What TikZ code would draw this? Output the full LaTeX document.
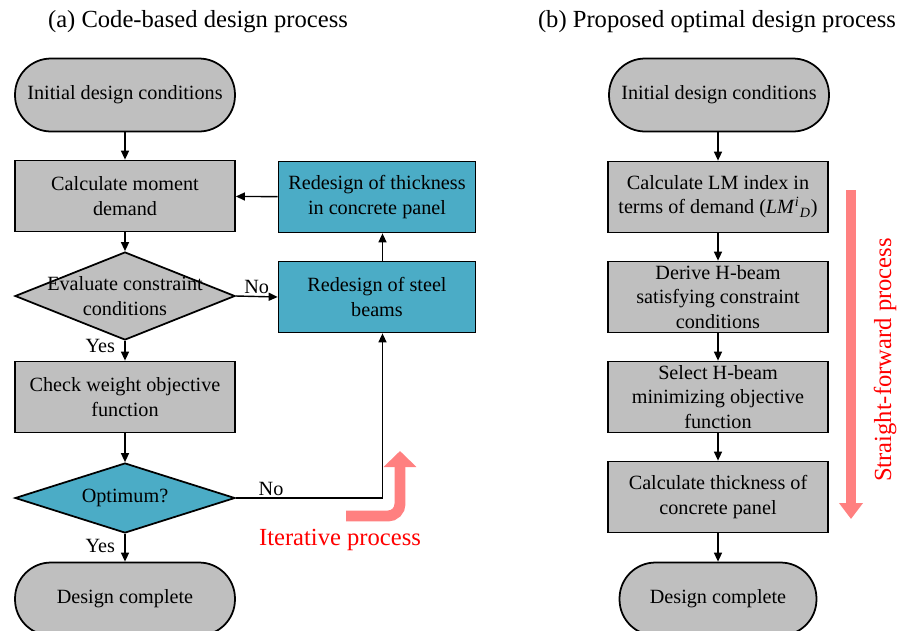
\documentclass[tikz,border=0pt]{standalone}
\usepackage{fontspec}
\setmainfont{Liberation Serif}
\usetikzlibrary{shapes.geometric,arrows.meta}
\definecolor{boxgray}{HTML}{BFBFBF}
\definecolor{boxteal}{HTML}{4BACC6}
\definecolor{flowpink}{HTML}{FF8080}

\begin{document}
\begin{tikzpicture}[
    x=0.02cm, y=-0.02cm,
    font=\fontsize{11.5}{13.8}\selectfont,
    term/.style={draw, line width=1pt, fill=boxgray, rounded corners=0.72cm, minimum width=4.4cm, minimum height=1.46cm, align=center},
    proc/.style={draw, line width=1pt, fill=boxgray, minimum width=4.4cm, minimum height=1.42cm, inner ysep=1pt, align=center},
    redo/.style={proc, fill=boxteal, minimum width=3.94cm},
    decision/.style={diamond, draw, line width=1pt, fill=boxgray, inner sep=0pt, minimum width=4.4cm},
    flow/.style={line width=0.8pt, -{Triangle[length=1.8mm,width=1.6mm]}},
    bigarrow/.style={color=flowpink, line width=6.2pt},
    caption/.style={font=\fontsize{14}{16}\selectfont},
    note/.style={text=red, font=\fontsize{14}{16}\selectfont}
]
    \useasboundingbox (0,0) rectangle (900,630);

    % Code-based process
    \node[caption] (capa) at (198,22) {(a) Code-based design process};
    \node[term] (starta) at (125,95) {Initial design conditions};
    \node[proc] (moment) at (125,196) {Calculate moment\\demand};
    \node[decision, minimum height=1.76cm, label={[align=center]center:Evaluate constraint\\conditions}] (check) at (125,296) {};
    \node[proc] (weight) at (125,397) {Check weight objective\\function};
    \node[decision, fill=boxteal, minimum height=1.4cm, label=center:Optimum?] (optimum) at (125,498) {};
    \node[term] (enda) at (125,599) {Design complete};
    \node[redo] (thick) at (377,197) {Redesign of thickness\\in concrete panel};
    \node[redo] (steel) at (377,297) {Redesign of steel\\beams};

    \draw[flow] (starta) -- (moment);
    \draw[flow] (moment) -- (check);
    \draw[flow] (check) -- node[left, pos=0.25, xshift=-2pt]{Yes} (weight);
    \draw[flow] (check.east) -- node[above, inner sep=1pt]{No} (steel.west);
    \draw[flow] (weight) -- (optimum);
    \draw[flow] (optimum) -- node[left, pos=0.45, xshift=-2pt]{Yes} (enda);
    \draw[flow] (optimum.east) -| node[above, pos=0.12, inner sep=1pt]{No} ([xshift=0.11cm]steel.south);
    \draw[flow] ([xshift=0.11cm]steel.north) -- ([xshift=0.11cm]thick.south);
    \draw[flow] (thick) -- (moment);

    % Iterative arrow
    \coordinate (iterfrom) at (346,516);
    \coordinate (iterto) at (400,451);
    \draw[bigarrow, rounded corners=0.24cm, -{Triangle[length=0.32cm,width=0.64cm]}] (iterfrom) -| (iterto);
    \node[note] (iter) at (340,540) {Iterative process};

    % Proposed process
    \node[caption] (capb) at (717,22) {(b) Proposed optimal design process};
    \node[term] (startb) at (719,95) {Initial design conditions};
    \node[proc] (lmindex) at (718,197) {Calculate LM index in\\terms of demand (\textit{LM}\textsuperscript{\textit{i}}\textsubscript{\textit{D}})};
    \node[proc] (derive) at (718,297) {Derive H-beam\\satisfying constraint\\conditions};
    \node[proc] (select) at (718,397) {Select H-beam\\minimizing objective\\function};
    \node[proc] (panel) at (718,497) {Calculate thickness of\\concrete panel};
    \node[term, minimum width=3.94cm] (endb) at (718,599) {Design complete};

    \draw[flow] (startb.south -| lmindex) -- (lmindex);
    \draw[flow] (lmindex) -- (derive);
    \draw[flow] (derive) -- (select);
    \draw[flow] (select) -- (panel);
    \draw[flow] (panel) -- (endb);

    % Straight-forward arrow
    \coordinate (sffrom) at (851,190);
    \coordinate (sfto) at (851,519);
    \draw[bigarrow, -{Triangle[length=0.32cm,width=0.46cm]}] (sffrom) -- (sfto);
    \node[note, rotate=90] (straight) at (885,360) {Straight-forward process};

\end{tikzpicture}
\end{document}
